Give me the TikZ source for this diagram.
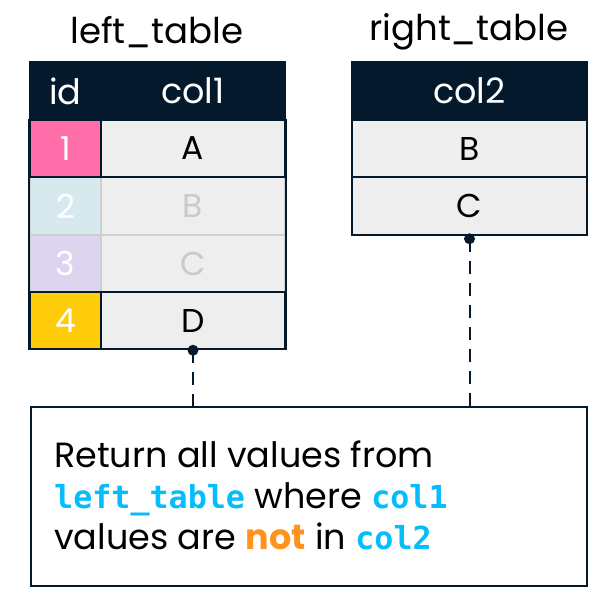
\documentclass[tikz,border=0pt]{standalone}
\usepackage{fontspec}
\setmainfont{Poppins}
\newfontfamily\codefont{DejaVu Sans Mono}[BoldFont={DejaVu Sans Mono Bold}]
\usetikzlibrary{positioning}
\definecolor{navy}{HTML}{05192D}
\definecolor{cellgray}{HTML}{EEEEEE}
\definecolor{fadetxt}{HTML}{C9C9C9}
\definecolor{fadeline}{HTML}{CFCFCF}
\definecolor{pinkc}{HTML}{FF6EA9}
\definecolor{bluec}{HTML}{D7E8EF}
\definecolor{lavc}{HTML}{DDD5F0}
\definecolor{yelc}{HTML}{FFCC0A}
\definecolor{cyanc}{HTML}{06BDFC}
\definecolor{orangec}{HTML}{FF931E}
\newcommand\codetxt[1]{{\codefont\fontsize{31.7}{41}\selectfont\bfseries\color{cyanc}#1}}
\tikzset{
  cell/.style={draw=navy, line width=2pt, fill=cellgray, inner sep=0pt, font=\fontsize{33}{36}\selectfont, text=black},
  fadecell/.style={draw=fadeline, line width=2pt, fill=cellgray, inner sep=0pt, font=\fontsize{33}{36}\selectfont, text=fadetxt},
  hdr/.style={fill=navy, draw=navy, line width=2pt, inner sep=0pt, font=\fontsize{35}{38}\selectfont, text=white},
  title/.style={font=\fontsize{35.5}{38}\selectfont, text=black},
  body/.style={anchor=base west, inner sep=0pt, font=\fontsize{35}{41}\selectfont, text=black},
  dot/.style={circle, fill=navy, inner sep=0pt, minimum size=11pt},
  dashconn/.style={draw=navy, line width=2pt, dash pattern=on 13pt off 9pt},
}
\begin{document}
\begin{tikzpicture}[x=1pt,y=-1pt]
\useasboundingbox (0,0) rectangle (604,598);
\fill[white] (0,0) rectangle (604,598);
% titles
\node[title] (lt) at (157,32) {left\_table};
\node[title] (rt) at (469,32) {right\_table};
% left header
\node[hdr, minimum width=71pt, minimum height=58pt] (hid) at (65.5,91) {id};
\node[hdr, minimum width=184pt, minimum height=58pt] (hc1) at (193,91) {col1};
% left rows
\node[fadecell, fill=bluec, text=white, minimum width=71pt, minimum height=57.5pt] (i2) at (65.5,206) {2};
\node[fadecell, minimum width=184pt, minimum height=57.5pt] (c2) at (193,206) {B};
\node[fadecell, fill=lavc, text=white, minimum width=71pt, minimum height=57.5pt] (i3) at (65.5,263.5) {3};
\node[fadecell, minimum width=184pt, minimum height=57.5pt] (c3) at (193,263.5) {C};
\node[cell, fill=pinkc, text=white, minimum width=71pt, minimum height=57.5pt] (i1) at (65.5,148.5) {1};
\node[cell, minimum width=184pt, minimum height=57.5pt] (c1) at (193,148.5) {A};
\node[cell, fill=yelc, text=white, minimum width=71pt, minimum height=57.5pt] (i4) at (65.5,320.5) {4};
\node[cell, minimum width=184pt, minimum height=57.5pt] (c4) at (193,320.5) {D};
\draw[navy, line width=2pt] (i1.north west) -- (i4.south west);
\draw[navy, line width=2pt] (c1.north east) -- (c4.south east);
% right table
\node[hdr, minimum width=235pt, minimum height=58pt] (hc2) at (469.5,91) {col2};
\node[cell, minimum width=235pt, minimum height=57.5pt] (r1) at (469.5,148.5) {B};
\node[cell, minimum width=235pt, minimum height=57.5pt] (r2) at (469.5,206) {C};
% bottom box
\node[draw=navy, line width=2pt, fill=white, minimum width=556pt, minimum height=179pt, inner sep=0pt] (box) at (309,496.5) {};
\node[body] (l1) at (54,467) {Return all values from};
\node[body] (l2) at (54,508) {\codetxt{left\_table} where \codetxt{col1}};
\node[body] (l3) at (54,549) {values are {\bfseries\color{orangec}not} in \codetxt{col2}};
% connectors
\node[dot] (d1) at (c4.south) {};
\node[dot] (d2) at ([yshift=-3pt]r2.south) {};
\draw[dashconn] (d1.center) -- (d1.center |- box.north);
\draw[dashconn] (d2.center) -- (d2.center |- box.north);
\end{tikzpicture}
\end{document}
